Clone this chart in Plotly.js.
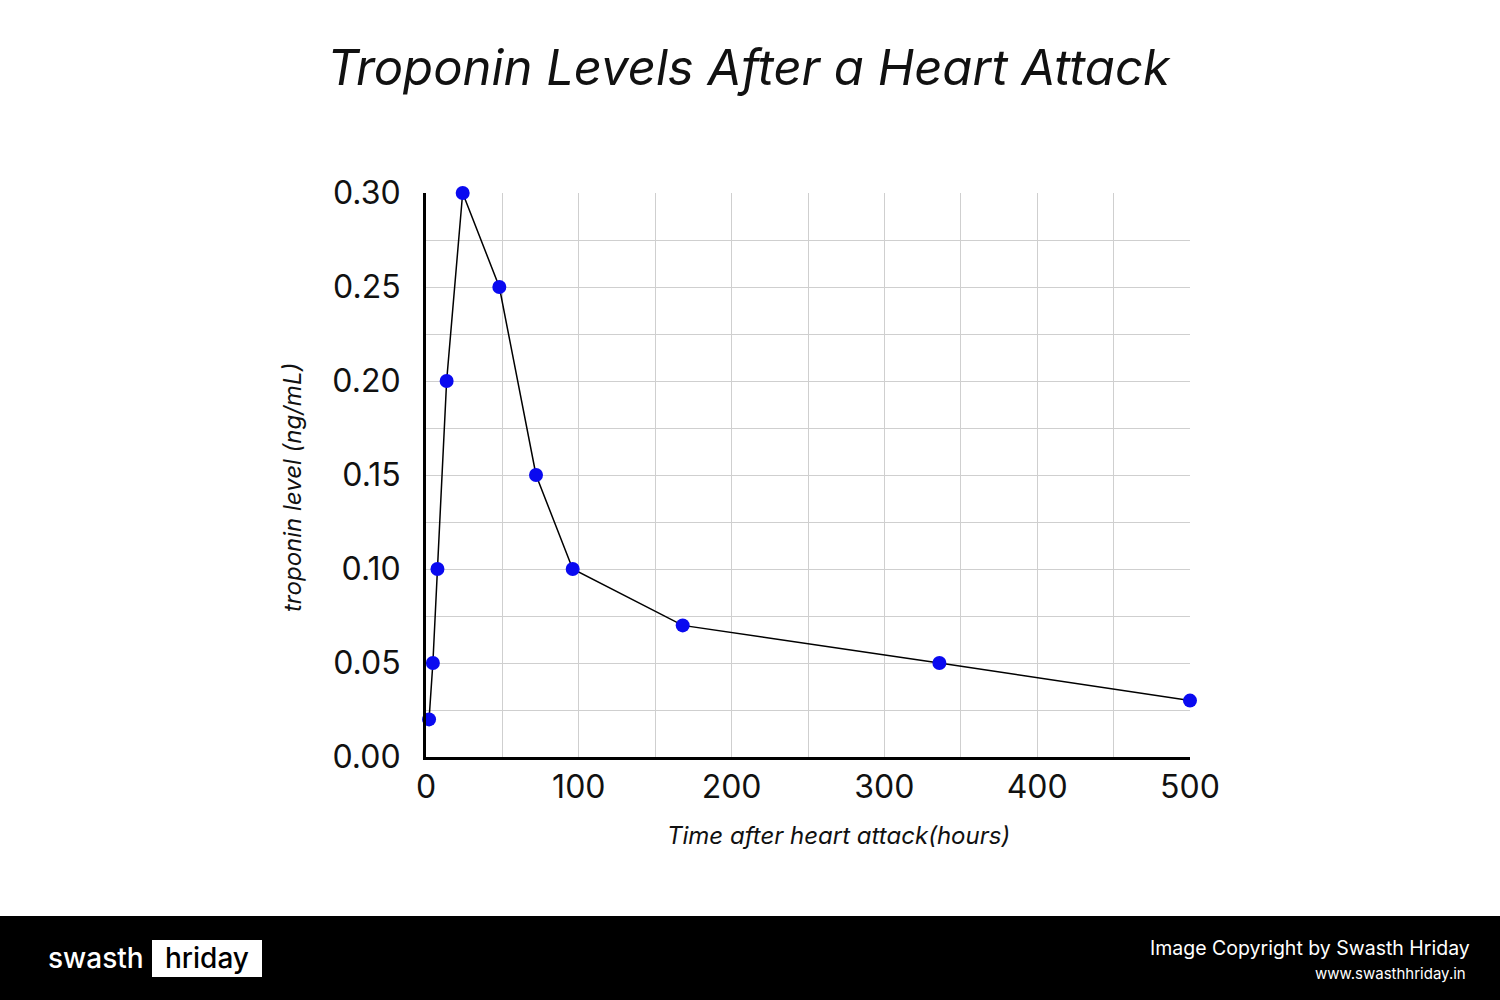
<!DOCTYPE html>
<html>
<head>
<meta charset="utf-8">
<script src="https://cdn.plot.ly/plotly-3.0.1.min.js"></script>
<style>
  html, body { margin: 0; padding: 0; background: #ffffff; }
  #chart { width: 1500px; height: 1000px; }
</style>
</head>
<body>
<div id="chart"></div>
<script>
// Data
const hours = [2, 4.5, 7.5, 13.5, 24, 48, 72, 96, 168, 336, 500];
const troponin = [0.02, 0.05, 0.10, 0.20, 0.30, 0.25, 0.15, 0.10, 0.07, 0.05, 0.03];

const chartTitle = "Troponin Levels After a Heart Attack";
const xTitle = "Time after heart attack(hours)";
const yTitle = "troponin level (ng/mL)";

const FONT = "Inter, 'Noto Sans', 'Open Sans', sans-serif";

const trace = {
  x: hours,
  y: troponin,
  type: "scatter",
  mode: "lines+markers",
  line: { color: "#000000", width: 1.5 },
  marker: { color: "#0a0af0", size: 14 },
  cliponaxis: false,
  hoverinfo: "x+y"
};

const layout = {
  width: 1500,
  height: 1000,
  margin: { l: 0, r: 0, t: 0, b: 0 },
  paper_bgcolor: "#ffffff",
  plot_bgcolor: "#ffffff",
  showlegend: false,
  title: {
    text: chartTitle,
    x: 0.499, xanchor: "center",
    y: 0.932, yanchor: "middle",
    font: { family: FONT, size: 49, color: "#111111", style: "italic" }
  },
  xaxis: {
    domain: [426 / 1500, 1190 / 1500],
    range: [0, 500],
    dtick: 100,
    tick0: 0,
    showgrid: true,
    gridcolor: "#cfcfcf",
    gridwidth: 1,
    minor: { dtick: 50, showgrid: true, gridcolor: "#cfcfcf", gridwidth: 1 },
    zeroline: false,
    showline: true,
    linecolor: "#000000",
    linewidth: 3,
    ticks: "",
    ticklabelstandoff: 0,
    tickfont: { family: FONT, size: 32, color: "#111111" },
    automargin: false,
    fixedrange: true
  },
  yaxis: {
    domain: [243 / 1000, 807 / 1000],
    range: [0, 0.30],
    dtick: 0.05,
    tick0: 0,
    tickformat: ".2f",
    showgrid: true,
    gridcolor: "#cfcfcf",
    gridwidth: 1,
    minor: { dtick: 0.025, showgrid: true, gridcolor: "#cfcfcf", gridwidth: 1 },
    zeroline: false,
    showline: true,
    linecolor: "#000000",
    linewidth: 3,
    ticks: "",
    ticklabelstandoff: 16,
    tickfont: { family: FONT, size: 32, color: "#111111" },
    automargin: false,
    fixedrange: true
  },
  shapes: [
    {
      type: "rect", xref: "paper", yref: "paper",
      x0: 0, x1: 1, y0: 0, y1: 0.084,
      fillcolor: "#000000", line: { width: 0 }, layer: "above"
    },
    {
      type: "rect", xref: "paper", yref: "paper",
      x0: 152 / 1500, x1: 262 / 1500, y0: 1 - 977 / 1000, y1: 1 - 940 / 1000,
      fillcolor: "#ffffff", line: { width: 0 }, layer: "above"
    }
  ],
  annotations: [
    {
      text: xTitle, xref: "paper", yref: "paper",
      x: 838 / 1500, y: 1 - 835 / 1000, xanchor: "center", yanchor: "middle",
      showarrow: false,
      font: { family: FONT, size: 24, color: "#111111", style: "italic" }
    },
    {
      text: yTitle, xref: "paper", yref: "paper",
      x: 292 / 1500, y: 1 - 488 / 1000, xanchor: "center", yanchor: "middle",
      textangle: -90, showarrow: false,
      font: { family: FONT, size: 24, color: "#111111", style: "italic" }
    },
    {
      text: "swasth", xref: "paper", yref: "paper",
      x: 46 / 1500, y: 1 - 958 / 1000, xanchor: "left", yanchor: "middle",
      showarrow: false,
      font: { family: FONT, size: 28, color: "#ffffff", weight: 500 }
    },
    {
      text: "hriday", xref: "paper", yref: "paper",
      x: 207 / 1500, y: 1 - 958 / 1000, xanchor: "center", yanchor: "middle",
      showarrow: false,
      font: { family: FONT, size: 28, color: "#000000", weight: 500 }
    },
    {
      text: "Image Copyright by Swasth Hriday", xref: "paper", yref: "paper",
      x: 1472 / 1500, y: 1 - 948 / 1000, xanchor: "right", yanchor: "middle",
      showarrow: false,
      font: { family: FONT, size: 19.5, color: "#ffffff" }
    },
    {
      text: "www.swasthhriday.in", xref: "paper", yref: "paper",
      x: 1468 / 1500, y: 1 - 973 / 1000, xanchor: "right", yanchor: "middle",
      showarrow: false,
      font: { family: FONT, size: 15, color: "#ffffff" }
    }
  ]
};

Plotly.newPlot("chart", [trace], layout, { displayModeBar: false, staticPlot: true });
</script>
</body>
</html>
